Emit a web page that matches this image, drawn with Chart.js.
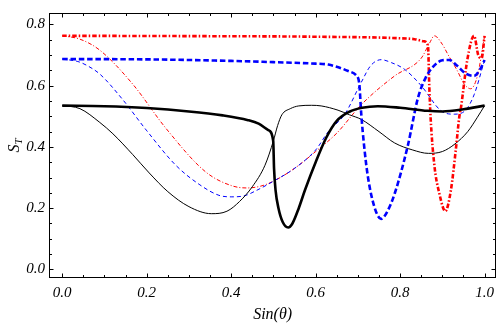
<!DOCTYPE html>
<html>
<head>
<meta charset="utf-8">
<script src="https://cdn.jsdelivr.net/npm/chart.js@4.4.0/dist/chart.umd.min.js"></script>
<style>
  html, body { margin: 0; padding: 0; background: #fff; }
  #wrap { width: 500px; height: 326px; }
</style>
</head>
<body>
<div id="wrap"><canvas id="chart"></canvas></div>
<script>
// tick labels
const xTicks = [0, 0.2, 0.4, 0.6, 0.8, 1.0];
const yTicks = [0, 0.2, 0.4, 0.6, 0.8];

// thick black solid
const thickBlackX = [0, 0.1, 0.2, 0.3, 0.38, 0.44, 0.465, 0.488, 0.4995, 0.5015, 0.505, 0.512, 0.522, 0.535, 0.545, 0.56, 0.575, 0.6, 0.625, 0.65, 0.68, 0.71, 0.747, 0.8, 0.865, 0.9, 0.95, 1.0];
const thickBlackY = [0.535, 0.533, 0.527, 0.516, 0.503, 0.4875, 0.476, 0.455, 0.42, 0.33, 0.26, 0.2, 0.155, 0.137, 0.15, 0.2, 0.26, 0.35, 0.43, 0.485, 0.515, 0.528, 0.533, 0.528, 0.518, 0.516, 0.523, 0.535];

// thin black solid
const thinBlackX = [0, 0.042, 0.089, 0.12, 0.167, 0.206, 0.25, 0.3, 0.353, 0.39, 0.42, 0.45, 0.48, 0.5, 0.51, 0.52, 0.54, 0.56, 0.59, 0.613, 0.653, 0.68, 0.708, 0.75, 0.787, 0.83, 0.867, 0.9, 0.93, 0.96, 0.983, 1.0];
const thinBlackY = [0.535, 0.525, 0.48, 0.443, 0.375, 0.315, 0.254, 0.205, 0.182, 0.19, 0.222, 0.27, 0.34, 0.42, 0.47, 0.505, 0.525, 0.534, 0.536, 0.534, 0.52, 0.505, 0.49, 0.45, 0.413, 0.39, 0.379, 0.385, 0.41, 0.45, 0.497, 0.535];

// thick blue dashed
const thickBlueX = [0, 0.2, 0.4, 0.5, 0.6, 0.63, 0.677, 0.695, 0.703, 0.708, 0.715, 0.724, 0.74, 0.755, 0.77, 0.787, 0.818, 0.842, 0.86, 0.88, 0.9, 0.916, 0.935, 0.955, 0.975, 0.99, 1.0];
const thickBlueY = [0.687, 0.686, 0.681, 0.677, 0.672, 0.669, 0.648, 0.635, 0.61, 0.507, 0.4, 0.3, 0.2, 0.165, 0.19, 0.247, 0.403, 0.559, 0.625, 0.665, 0.683, 0.684, 0.665, 0.64, 0.632, 0.655, 0.684];

// thin blue dashed
const thinBlueX = [0, 0.037, 0.06, 0.089, 0.143, 0.199, 0.269, 0.324, 0.371, 0.4, 0.43, 0.46, 0.5, 0.55, 0.6, 0.63, 0.669, 0.708, 0.73, 0.755, 0.78, 0.811, 0.85, 0.897, 0.928, 0.955, 0.975, 1.0];
const thinBlueY = [0.687, 0.679, 0.665, 0.638, 0.555, 0.455, 0.34, 0.278, 0.242, 0.237, 0.24, 0.258, 0.288, 0.33, 0.39, 0.45, 0.507, 0.611, 0.665, 0.685, 0.675, 0.653, 0.6, 0.518, 0.507, 0.52, 0.57, 0.684];

// thick red dash-dot
const thickRedX = [0, 0.3, 0.6, 0.8, 0.834, 0.857, 0.866, 0.869, 0.872, 0.881, 0.893, 0.907, 0.92, 0.932, 0.94, 0.944, 0.959, 0.975, 0.985, 0.993, 1.0];
const thickRedY = [0.763, 0.762, 0.76, 0.755, 0.752, 0.745, 0.73, 0.6, 0.5, 0.341, 0.247, 0.19, 0.257, 0.393, 0.497, 0.528, 0.684, 0.763, 0.7, 0.69, 0.763];

// thin red dash-dot
const thinRedX = [0, 0.042, 0.089, 0.167, 0.246, 0.34, 0.402, 0.437, 0.47, 0.5, 0.55, 0.6, 0.65, 0.708, 0.787, 0.85, 0.87, 0.881, 0.9, 0.912, 0.935, 0.952, 0.967, 0.983, 1.0];
const thinRedY = [0.763, 0.752, 0.716, 0.605, 0.46, 0.318, 0.273, 0.266, 0.272, 0.288, 0.33, 0.385, 0.445, 0.538, 0.632, 0.69, 0.74, 0.763, 0.735, 0.705, 0.65, 0.605, 0.59, 0.632, 0.763];

function pts(xs, ys) {
  return xs.map((x, i) => ({ x: x, y: ys[i] }));
}

function series(xs, ys, color, width, dash) {
  return {
    data: pts(xs, ys),
    borderColor: color,
    borderWidth: width,
    borderDash: dash,
    pointRadius: 0,
    fill: false,
    cubicInterpolationMode: 'monotone'
  };
}

const tickFont = { family: "'Liberation Serif', 'Times New Roman', serif", size: 15, style: 'italic' };

// frame with inward ticks on all four sides, plus y title
const framePlugin = {
  id: 'frame',
  afterDatasetsDraw(chart) {
    const { ctx, chartArea: a, scales: { x, y } } = chart;
    const L = Math.round(a.left) + 0.5, R = Math.round(a.right) - 0.5;
    const T = Math.round(a.top) + 0.5, B = Math.round(a.bottom) - 0.5;
    ctx.save();
    ctx.strokeStyle = '#000';
    ctx.lineWidth = 1;
    ctx.strokeRect(L, T, R - L, B - T);
    ctx.beginPath();
    for (let i = 0; i <= 20; i++) {
      const v = i * 0.05;
      const px = Math.round(x.getPixelForValue(v)) + 0.5;
      const len = i % 4 === 0 ? 4 : 2.5;
      ctx.moveTo(px, B); ctx.lineTo(px, B - len);
      ctx.moveTo(px, T); ctx.lineTo(px, T + len);
    }
    for (let i = 0; i <= 16; i++) {
      const v = i * 0.05;
      const py = Math.round(y.getPixelForValue(v)) + 0.5;
      const len = i % 4 === 0 ? 4 : 2.5;
      ctx.moveTo(L, py); ctx.lineTo(L + len, py);
      ctx.moveTo(R, py); ctx.lineTo(R - len, py);
    }
    ctx.stroke();

    // y axis title S_T
    ctx.translate(15, (a.top + a.bottom) / 2);
    ctx.rotate(-Math.PI / 2);
    ctx.fillStyle = '#000';
    ctx.textBaseline = 'middle';
    ctx.textAlign = 'left';
    ctx.font = "italic 16px 'Liberation Serif', serif";
    const w = ctx.measureText('S').width;
    ctx.fillText('S', -w / 2 - 3, 0);
    ctx.font = "italic 11px 'Liberation Serif', serif";
    ctx.fillText('T', w / 2 - 3, 4);
    ctx.restore();
  }
};

new Chart(document.getElementById('chart'), {
  type: 'line',
  data: {
    datasets: [
      series(thickBlackX, thickBlackY, '#000000', 2.6, []),
      series(thickBlueX, thickBlueY, '#0000ff', 2.6, [5.5, 2.8]),
      series(thickRedX, thickRedY, '#ff0000', 2.6, [4.5, 2, 1.5, 2]),
      series(thinBlackX, thinBlackY, '#000000', 1, []),
      series(thinBlueX, thinBlueY, '#0000ff', 1, [4, 3]),
      series(thinRedX, thinRedY, '#ff0000', 1, [4, 2, 1, 2])
    ]
  },
  options: {
    responsive: true,
    maintainAspectRatio: false,
    animation: false,
    devicePixelRatio: 1,
    layout: { padding: { top: 1, right: 1, left: 0, bottom: 0 } },
    plugins: {
      legend: { display: false },
      tooltip: { enabled: false }
    },
    scales: {
      x: {
        type: 'linear',
        min: -0.0313,
        max: 1.0275,
        afterFit(scale) { scale.height = 48; },
        afterBuildTicks(scale) { scale.ticks = xTicks.map(v => ({ value: v })); },
        grid: { display: false, drawTicks: false },
        border: { display: false },
        ticks: {
          padding: 6,
          color: '#000',
          font: tickFont,
          maxRotation: 0,
          callback: v => v.toFixed(1)
        },
        title: {
          display: true,
          text: 'Sin(θ)',
          color: '#000',
          font: { family: "'Liberation Serif', 'Times New Roman', serif", size: 16, style: 'italic' },
          padding: { top: 0, bottom: 2 }
        }
      },
      y: {
        type: 'linear',
        min: -0.0281,
        max: 0.8375,
        afterFit(scale) { scale.width = 49; },
        afterBuildTicks(scale) { scale.ticks = yTicks.map(v => ({ value: v })); },
        grid: { display: false, drawTicks: false },
        border: { display: false },
        ticks: {
          padding: 4,
          color: '#000',
          font: tickFont,
          callback: v => v.toFixed(1)
        }
      }
    }
  },
  plugins: [framePlugin]
});
</script>
</body>
</html>
